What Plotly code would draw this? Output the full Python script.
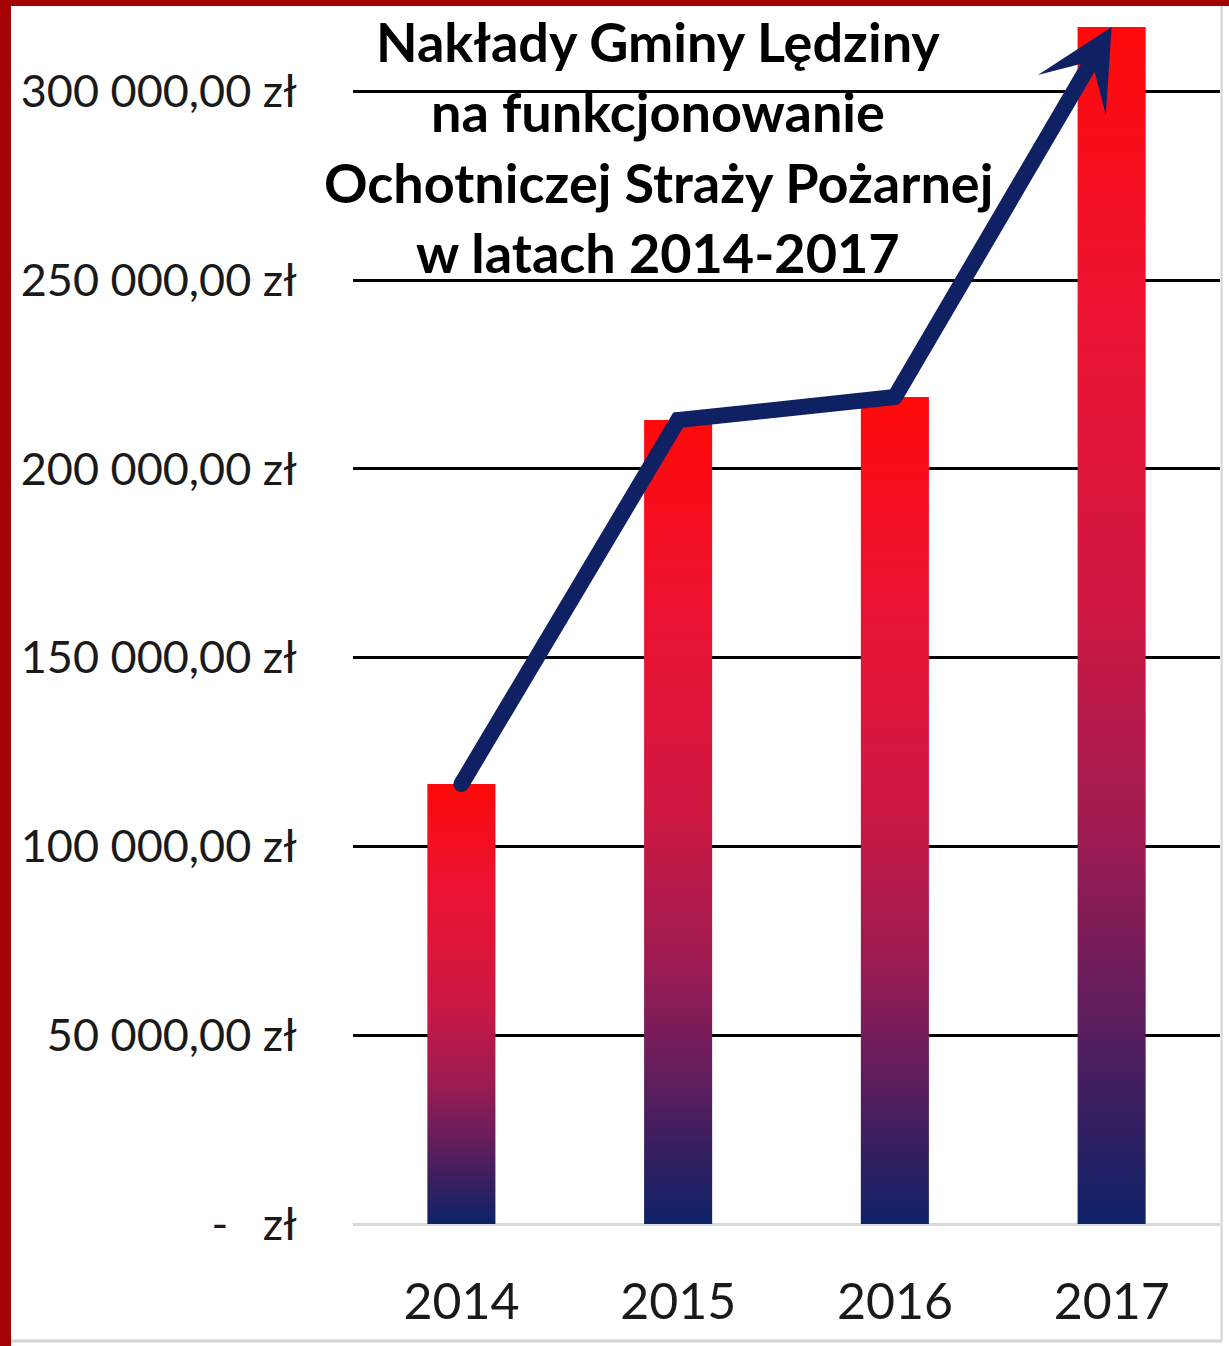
import plotly.graph_objects as go

# ---- data ----
years = ["2014", "2015", "2016", "2017"]
values = [116500, 212900, 219000, 317000]
y_ticks = [0, 50000, 100000, 150000, 200000, 250000, 300000]
title_lines = [
    "Nakłady Gminy Lędziny",
    "na funkcjonowanie",
    "Ochotniczej Straży Pożarnej",
    "w latach 2014-2017",
]


def zl(v):
    if v == 0:
        return "-\u00a0\u00a0\u00a0zł"
    s = f"{v:,.2f}".replace(",", "\u00a0").replace(".", ",")
    return s + " zł"


y_ticktext = [zl(v) for v in y_ticks]

# ---- layout constants ----
W, H = 1229, 1346
ML, MR, MT, MB = 353, 9, 10, 122
PW, PH = W - ML - MR, H - MT - MB
px_per_unit = 188.8 / 50000
y_max = PH / px_per_unit
bar_w = 0.314
LW = 16

navy = "#0f2163"
grad = [
    [0.0, "#0e2268"],
    [0.1, "#3a1f60"],
    [0.2, "#6a1d5c"],
    [0.32, "#9c1b52"],
    [0.52, "#d01842"],
    [0.77, "#ec1230"],
    [1.0, "#ff0a0a"],
]

fig = go.Figure()
xs = list(range(len(years)))
for xi, v in zip(xs, values):
    fig.add_trace(go.Scatter(
        x=[xi - bar_w / 2, xi + bar_w / 2, xi + bar_w / 2, xi - bar_w / 2, xi - bar_w / 2],
        y=[0, 0, v, v, 0],
        mode="lines",
        line=dict(width=0, color="rgba(0,0,0,0)"),
        fill="toself",
        fillgradient=dict(type="vertical", colorscale=grad),
        hoverinfo="skip",
        showlegend=False,
    ))

# trend line through first three bar tops (round joins via markers)
fig.add_trace(go.Scatter(
    x=xs[:-1], y=values[:-1], mode="lines+markers",
    line=dict(color=navy, width=LW),
    marker=dict(color=navy, size=LW, line=dict(width=0)),
    hoverinfo="skip", showlegend=False,
))

# arrow for the last segment
fig.add_annotation(
    x=xs[-1], y=values[-1], ax=xs[-2], ay=values[-2],
    xref="x", yref="y", axref="x", ayref="y",
    showarrow=True, arrowhead=3, arrowsize=0.82, arrowwidth=LW,
    arrowcolor=navy, text="",
)


def px_to_paper_x(px):
    return (px - ML) / PW


def px_to_paper_y(py):
    return (H - MB - py) / PH


# title lines
for txt, cy in zip(title_lines, [41, 111, 182, 252]):
    fig.add_annotation(
        x=px_to_paper_x(658), y=px_to_paper_y(cy), xref="paper", yref="paper",
        text=f"<b>{txt}</b>", showarrow=False, xanchor="center", yanchor="middle",
        font=dict(family="Lato", size=54, color="#000000"),
    )

# frame decorations
shapes = [
    dict(type="rect", xref="paper", yref="paper",
         x0=px_to_paper_x(0), x1=px_to_paper_x(11), y0=px_to_paper_y(H), y1=px_to_paper_y(0),
         fillcolor="#a50303", line=dict(width=0), layer="above"),
    dict(type="rect", xref="paper", yref="paper",
         x0=px_to_paper_x(0), x1=px_to_paper_x(W), y0=px_to_paper_y(6), y1=px_to_paper_y(0),
         fillcolor="#a50303", line=dict(width=0), layer="above"),
    dict(type="line", xref="paper", yref="paper",
         x0=px_to_paper_x(1221.5), x1=px_to_paper_x(1221.5), y0=px_to_paper_y(1341), y1=px_to_paper_y(6),
         line=dict(color="#d4d4d4", width=2), layer="above"),
    dict(type="line", xref="paper", yref="paper",
         x0=px_to_paper_x(11), x1=px_to_paper_x(1222), y0=px_to_paper_y(1341), y1=px_to_paper_y(1341),
         line=dict(color="#d4d4d4", width=3), layer="above"),
]

fig.update_layout(
    width=W, height=H, autosize=False,
    margin=dict(l=ML, r=MR, t=MT, b=MB, pad=0),
    paper_bgcolor="white", plot_bgcolor="white",
    shapes=shapes,
    showlegend=False,
    xaxis=dict(
        range=[-0.5, len(years) - 0.5], tickmode="array", tickvals=xs, ticktext=years,
        showgrid=False, zeroline=False, showline=False, ticks="",
        tickfont=dict(family="Lato", size=50, color="#1a1a1a"),
        ticklabelstandoff=44, fixedrange=True,
    ),
    yaxis=dict(
        range=[0, y_max], tickmode="array", tickvals=y_ticks, ticktext=y_ticktext,
        showgrid=True, gridcolor="#000000", gridwidth=2.5,
        zeroline=True, zerolinecolor="#d9d9d9", zerolinewidth=3,
        showline=False, ticks="",
        tickfont=dict(family="Lato", size=45, color="#1a1a1a"),
        ticklabelstandoff=55, fixedrange=True,
    ),
)

fig.write_html(
    "out.html",
    config={"displayModeBar": False},
    post_script="document.body.style.margin='0';document.body.style.overflow='hidden';",
)
